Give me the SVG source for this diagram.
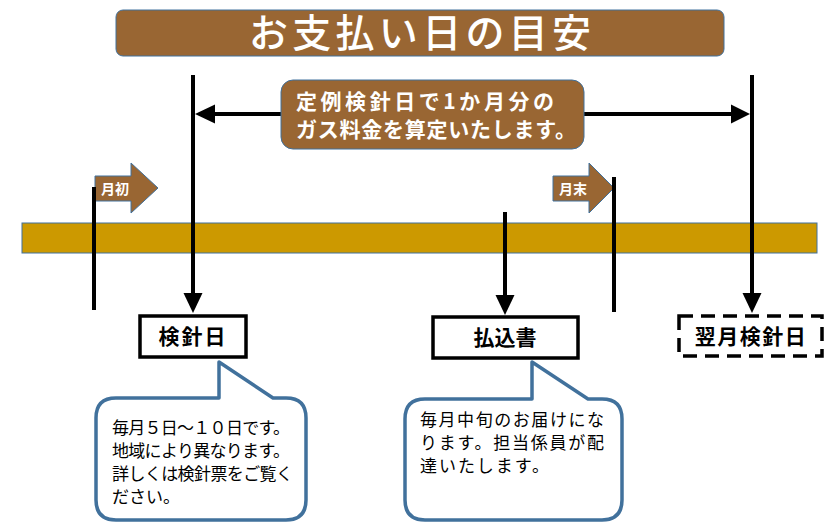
<svg xmlns="http://www.w3.org/2000/svg" width="832" height="529" viewBox="0 0 832 529">
<style>
text{font-family:"Noto Sans CJK JP","Noto Sans CJK SC",sans-serif}
.brown{fill:#996633;stroke:#41719C;stroke-width:1}
.wt{fill:#fff;font-weight:bold}
.ln{stroke:#000;stroke-width:4;fill:none}
.ah{fill:#000}
.lbl{fill:#fff;stroke:#000;stroke-width:3.5}
.lt{font-size:21px;font-weight:bold;fill:#000;text-anchor:middle}
.call{fill:#fff;stroke:#41719C;stroke-width:3.5;stroke-linejoin:round}
.ct{font-size:17px;fill:#000}
</style>
<rect width="832" height="529" fill="#fff"/>
<g id="title">
<rect class="brown" x="116" y="10" width="608" height="46" rx="7"/>
<text x="420" y="47" font-size="39" font-weight="500" fill="#fff" text-anchor="middle" textLength="342" lengthAdjust="spacing">お支払い日の目安</text>
</g>
<g id="timeline">
<rect x="22" y="223" width="795" height="30" fill="#CC9900" stroke="#41719C" stroke-width="1"/>
</g>
<g id="month-start">
<polygon class="brown" points="95,176 131,176 131,163 158,188 131,213 131,201 95,201"/>
<text class="wt" x="101" y="194" font-size="14">月初</text>
</g>
<g id="month-end">
<polygon class="brown" points="553,176 589,176 589,163 614,188 589,213 589,201 553,201"/>
<text class="wt" x="559" y="194" font-size="14">月末</text>
</g>
<g id="connectors">
<line class="ln" x1="94" y1="187" x2="94" y2="310"/>
<line class="ln" x1="614" y1="177" x2="614" y2="312"/>
<line class="ln" x1="193" y1="75" x2="193" y2="296"/>
<polygon class="ah" points="183.5,293 202.5,293 193,313"/>
<line class="ln" x1="752" y1="75" x2="752" y2="296"/>
<polygon class="ah" points="742.5,293 761.5,293 752,313"/>
<line class="ln" x1="505" y1="212" x2="505" y2="298"/>
<polygon class="ah" points="495.5,295 514.5,295 505,315"/>
<line class="ln" x1="212" y1="114" x2="734" y2="114"/>
<polygon class="ah" points="195,114 215,104.5 215,123.5"/>
<polygon class="ah" points="750,114 731,104.5 731,123.5"/>
</g>
<g id="note-reading">
<rect class="brown" x="281" y="80" width="303" height="69" rx="12"/>
<text class="wt" x="296" y="109" font-size="21" textLength="258" lengthAdjust="spacing">定例検針日で1か月分の</text>
<text class="wt" x="296" y="137" font-size="21" textLength="280" lengthAdjust="spacing">ガス料金を算定いたします。</text>
</g>
<g id="meter-day">
<rect class="lbl" x="140" y="316" width="106" height="41"/>
<text class="lt" x="193" y="344" letter-spacing="2">検針日</text>
</g>
<g id="payslip">
<rect class="lbl" x="433" y="317" width="145" height="41"/>
<text class="lt" x="505" y="345">払込書</text>
</g>
<g id="next-meter-day">
<rect x="679" y="316" width="143" height="40" fill="#fff" stroke="#000" stroke-width="3.5" stroke-dasharray="14 8"/>
<text class="lt" x="751" y="344" letter-spacing="1.5">翌月検針日</text>
</g>
<g id="callout-meter">
<path class="call" d="M116,398 H219 V362 L273,398 H286 Q306,398 306,418 V500 Q306,520 286,520 H116 Q96,520 96,500 V418 Q96,398 116,398 Z"/>
<text class="ct" x="112" y="434" textLength="178" lengthAdjust="spacing">毎月５日～１０日です。</text>
<text class="ct" x="112" y="457" textLength="178" lengthAdjust="spacing">地域により異なります。</text>
<text class="ct" x="112" y="480" textLength="181" lengthAdjust="spacing">詳しくは検針票をご覧く</text>
<text class="ct" x="112" y="503">ださい。</text>
</g>
<g id="callout-payslip">
<path class="call" d="M425,399 H532 V362 L588,399 H602 Q622,399 622,419 V500 Q622,520 602,520 H425 Q405,520 405,500 V419 Q405,399 425,399 Z"/>
<text class="ct" x="420" y="426" textLength="184" lengthAdjust="spacing">毎月中旬のお届けにな</text>
<text class="ct" x="420" y="449" textLength="184" lengthAdjust="spacing">ります。担当係員が配</text>
<text class="ct" x="420" y="472" textLength="129" lengthAdjust="spacing">達いたします。</text>
</g>
</svg>
